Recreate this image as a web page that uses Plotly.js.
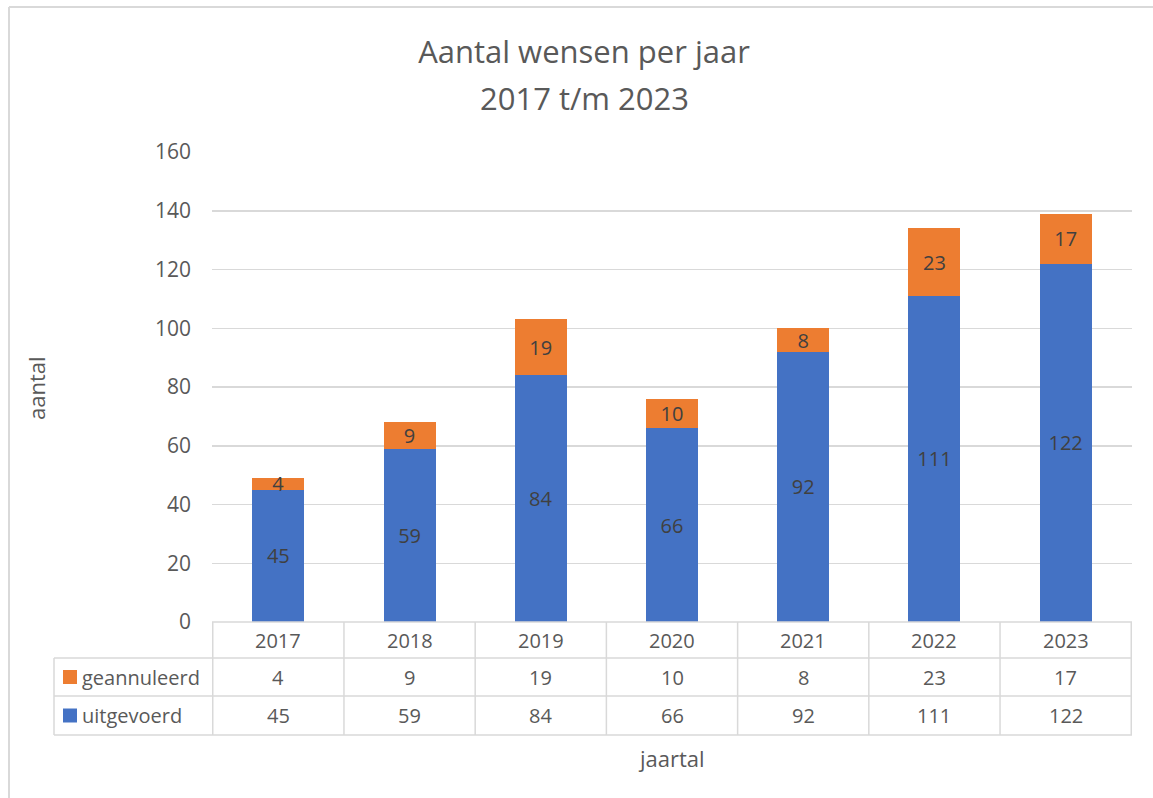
<!DOCTYPE html>
<html>
<head>
<meta charset="utf-8">
<script src="https://cdn.plot.ly/plotly-3.0.1.min.js"></script>
<style>html,body{margin:0;padding:0;background:#fff}#chart{width:1153px;height:798px}</style>
</head>
<body>
<div id="chart"></div>
<script>
const years = ['2017','2018','2019','2020','2021','2022','2023'];
const uitgevoerd = [45, 59, 84, 66, 92, 111, 122];
const geannuleerd = [4, 9, 19, 10, 8, 23, 17];
const seriesNames = ['geannuleerd', 'uitgevoerd'];
const yTicks = [0, 20, 40, 60, 80, 100, 120, 140, 160];
const titleLine1 = 'Aantal wensen per jaar';
const titleLine2 = '2017 t/m 2023';
const yTitle = 'aantal';
const xTitle = 'jaartal';

const BLUE = '#4472C4', ORANGE = '#ED7D31', GRID = '#d9d9d9', TXT = '#595959', LBL = '#404040';
const FONT = '"Open Sans", "Noto Sans", sans-serif';
const W = 1153, H = 798, L = 212, R = 1132, T = 152, B = 622;
const px = x => (x - L) / (R - L);
const py = y => (B - y) / (B - T);

const traces = [
  {type:'bar', name:seriesNames[1], x:years, y:uitgevoerd, marker:{color:BLUE},
   text:uitgevoerd.map(String), textposition:'inside', insidetextanchor:'middle', constraintext:'none', textangle:0,
   textfont:{family:FONT, size:20, color:LBL}, hoverinfo:'x+y+name'},
  {type:'bar', name:seriesNames[0], x:years, y:geannuleerd, marker:{color:ORANGE},
   text:geannuleerd.map(String), textposition:'inside', insidetextanchor:'middle', constraintext:'none', textangle:0,
   textfont:{family:FONT, size:20, color:LBL}, hoverinfo:'x+y+name'}
];

const shapes = [];
const annotations = [];
const line = (x0,y0,x1,y1,w,c) => shapes.push({type:'line', xref:'paper', yref:'paper', x0:px(x0), y0:py(y0), x1:px(x1), y1:py(y1), line:{color:c||GRID, width:w||1.5}});
// outer chart border (top and left)
line(9, 7, W, 7, 2);
line(9, 7, 9, H, 2);
// data table
const rowY = [622, 658, 696, 735];
const tabLeft = 54;
line(L, rowY[0], R, rowY[0]);
for (let r = 1; r < rowY.length; r++) line(tabLeft, rowY[r], R, rowY[r]);
line(tabLeft, rowY[1], tabLeft, rowY[3]);
for (let i = 0; i <= years.length; i++) {
  shapes.push({type:'line', xref:'x', yref:'paper', x0:i-0.5, x1:i-0.5, y0:py(rowY[0]), y1:py(rowY[3]), line:{color:GRID, width:1.5}});
}
const rowCenters = [(rowY[0]+rowY[1])/2, (rowY[1]+rowY[2])/2, (rowY[2]+rowY[3])/2];
const tableRows = [years, geannuleerd, uitgevoerd];
tableRows.forEach((row, r) => {
  row.forEach((v, i) => {
    annotations.push({xref:'x', yref:'paper', x:i, y:py(rowCenters[r]), text:String(v), showarrow:false,
      xanchor:'center', yanchor:'middle', font:{family:FONT, size:20, color:TXT}});
  });
});
// legend keys in table
const keyColors = [ORANGE, BLUE];
seriesNames.forEach((n, k) => {
  const cy = rowCenters[k+1];
  shapes.push({type:'rect', xref:'paper', yref:'paper', x0:px(63), x1:px(77), y0:py(cy-7), y1:py(cy+7), fillcolor:keyColors[k], line:{width:0}});
  annotations.push({xref:'paper', yref:'paper', x:px(80), y:py(cy), text:n, showarrow:false,
    xanchor:'left', yanchor:'middle', font:{family:FONT, size:20, color:TXT}});
});
// axis titles
annotations.push({xref:'paper', yref:'paper', x:px(36), y:py(388), text:yTitle, textangle:-90, showarrow:false,
  xanchor:'center', yanchor:'middle', font:{family:FONT, size:22, color:TXT}});
annotations.push({xref:'paper', yref:'paper', x:px(671), y:py(758), text:xTitle, showarrow:false,
  xanchor:'center', yanchor:'middle', font:{family:FONT, size:22, color:TXT}});
// second title line
annotations.push({xref:'paper', yref:'paper', x:px(584), y:py(98), text:titleLine2, showarrow:false,
  xanchor:'center', yanchor:'middle', font:{family:FONT, size:31, color:TXT}});

const layout = {
  width:W, height:H, autosize:false,
  paper_bgcolor:'#fff', plot_bgcolor:'#fff',
  margin:{l:L, r:W-R, t:T, b:H-B, pad:0, autoexpand:false},
  barmode:'stack', bargap:0.604, showlegend:false,
  font:{family:FONT, color:TXT},
  title:{text:titleLine1, x:584/W, xref:'container', xanchor:'center', y:1-52/H, yref:'container', yanchor:'middle',
    font:{family:FONT, size:31, color:TXT}},
  xaxis:{type:'category', showticklabels:false, showgrid:false, zeroline:false, showline:false, ticks:'', fixedrange:true},
  yaxis:{range:[0,160], tickvals:yTicks, ticktext:yTicks.map(String), showgrid:true, gridcolor:GRID, gridwidth:1.5,
    zeroline:false, showline:false, ticks:'', ticklabelstandoff:20, tickfont:{family:FONT, size:21, color:TXT}, fixedrange:true},
  shapes:shapes, annotations:annotations
};
Plotly.newPlot('chart', traces, layout, {displayModeBar:false, staticPlot:true});
</script>
</body>
</html>
